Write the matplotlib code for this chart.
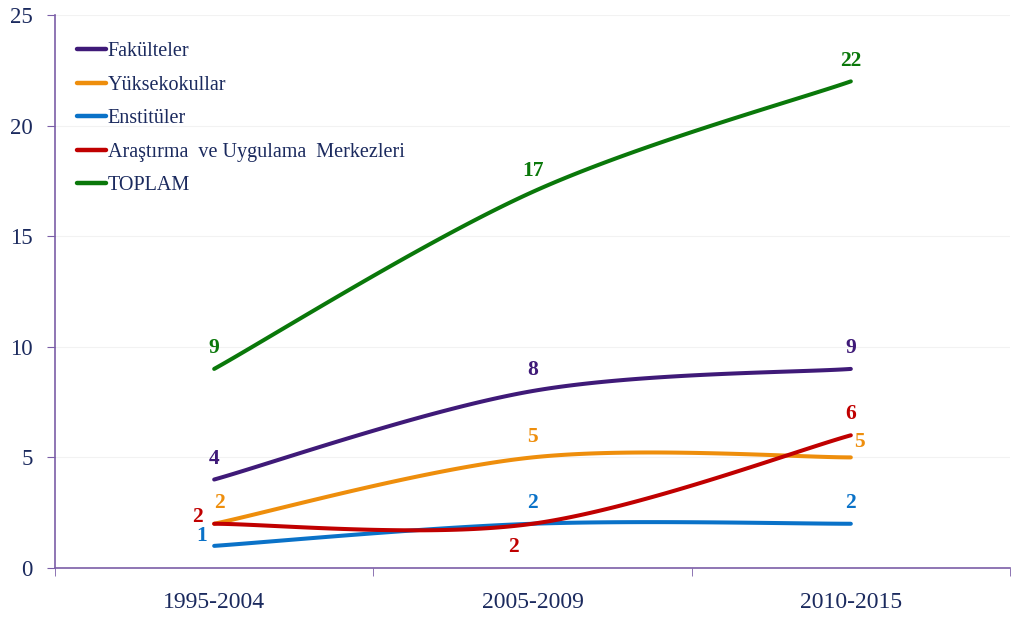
import numpy as np
import matplotlib
matplotlib.use("Agg")
import matplotlib.pyplot as plt

categories = ["1995-2004", "2005-2009", "2010-2015"]
fakulteler = [4, 8, 9]
yuksekokullar = [2, 5, 5]
enstituler = [1, 2, 2]
arastirma = [2, 2, 6]
toplam = [9, 17, 22]
series_names = ["Fakülteler", "Yüksekokullar", "Enstitüler",
                "Araştırma  ve Uygulama  Merkezleri", "TOPLAM"]
y_ticks = [0, 5, 10, 15, 20, 25]

colors = ["#3F1A78", "#EE8E0C", "#0A72C8", "#C00000", "#0A780A"]
# label offsets in points (dx, dy) per series per point
offsets = [
    [(0, 15), (0, 15), (0, 15)],
    [(4, 15), (0, 15), (6, 11)],
    [(-9, 7), (0, 15), (0, 15)],
    [(-12, 5), (-14, -17), (0, 15)],
    [(0, 15), (0, 15), (0, 15)],
]

TEXT = "#1B2A5E"
AXC = "#7B5EA7"

plt.rcParams["font.family"] = ["Liberation Serif", "DejaVu Serif"]

def excel_smooth(y, n=60):
    x = np.arange(len(y), dtype=float)
    y = np.asarray(y, dtype=float)
    P = np.column_stack([x, y])
    Pe = np.vstack([P[0], P, P[-1]])
    xs, ys = [], []
    t = np.linspace(0, 1, n)[:, None]
    for i in range(len(P) - 1):
        p0, p1, p2, p3 = Pe[i], Pe[i + 1], Pe[i + 2], Pe[i + 3]
        c1 = p1 + (p2 - p0) / 6.0
        c2 = p2 - (p3 - p1) / 6.0
        B = ((1 - t) ** 3) * p1 + 3 * ((1 - t) ** 2) * t * c1 + 3 * (1 - t) * t ** 2 * c2 + t ** 3 * p2
        xs.append(B[:, 0]); ys.append(B[:, 1])
    return np.concatenate(xs), np.concatenate(ys)

fig = plt.figure(figsize=(10.13, 6.19), dpi=100)
ax = fig.add_axes([55 / 1013, 1 - 568 / 619, (1010 - 55) / 1013, (568 - 15) / 619])

data = [fakulteler, yuksekokullar, enstituler, arastirma, toplam]
for vals, name, c in zip(data, series_names, colors):
    xs, ys = excel_smooth(vals)
    ax.plot(xs, ys, color=c, lw=2.9, solid_capstyle="round", label=name)

for vals, c, offs in zip(data, colors, offsets):
    for i, v in enumerate(vals):
        ax.annotate(str(v), (i, v), xytext=offs[i], textcoords="offset points",
                    ha="center", va="center", color=c, fontsize=15.5, fontweight="bold")

ax.set_xlim(-0.5, 2.5)
ax.set_ylim(0, 25)
ax.set_yticks(y_ticks)
ax.set_yticklabels([str(v) for v in y_ticks])
ax.set_xticks([0, 1, 2])
ax.set_xticklabels(categories)
ax.set_xticks([-0.5, 0.5, 1.5, 2.5], minor=True)
ax.tick_params(axis="x", which="major", length=0, pad=17, labelsize=17, labelcolor=TEXT)
ax.tick_params(axis="x", which="minor", length=6, color=AXC, direction="out")
ax.tick_params(axis="y", length=6, color=AXC, direction="out", labelsize=16.5, labelcolor=TEXT, pad=10)
for y in y_ticks[1:]:
    ax.axhline(y, color="#F2F2F2", lw=0.8, zorder=0)

for s in ["top", "right"]:
    ax.spines[s].set_visible(False)
for s in ["left", "bottom"]:
    ax.spines[s].set_color(AXC)
    ax.spines[s].set_linewidth(1.2)

leg = ax.legend(loc="upper left", bbox_to_anchor=(0.015, 0.966), frameon=False,
                fontsize=14.5, handlelength=1.4, handletextpad=0.1,
                labelspacing=0.72, borderaxespad=0)
for t in leg.get_texts():
    t.set_color(TEXT)
for h in leg.get_lines():
    h.set_linewidth(3.2)

fig.savefig("out.png", dpi=100)
